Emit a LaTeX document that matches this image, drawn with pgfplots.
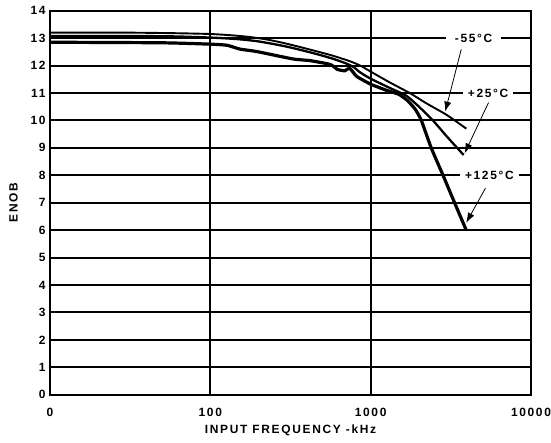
\documentclass[border=0pt]{standalone}
\usepackage{pgfplots}
\pgfplotsset{compat=1.18}
\usepackage{fontspec}
\setmainfont{Liberation Sans}[LetterSpace=14.0]
\usetikzlibrary{arrows.meta}

\begin{document}
\begin{tikzpicture}
\begin{axis}[
  scale only axis,
  width=481bp, height=384bp,
  xmode=log, log basis x=10,
  xmin=10, xmax=10000, ymin=0, ymax=14,
  xtick={10,100,1000,10000}, xticklabels={0,100,1000,10000},
  ytick={0,1,...,14},
  minor xtick={},
  major tick length=0pt,
  grid=major, grid style={black, line width=2.1bp},
  axis line style={black, line width=2.1bp},
  tick label style={font=\fontsize{12}{13}\selectfont\bfseries},
  /pgf/number format/assume math mode=true,
  log ticks with fixed point,
  xticklabel style={yshift=-10bp},
  yticklabel style={xshift=-1bp},
  xlabel={INPUT FREQUENCY -kHz}, ylabel={ENOB},
  label style={font=\fontsize{12}{13}\selectfont\bfseries},
  xlabel style={yshift=-1bp},
  ylabel style={yshift=6bp},
  clip=false,
]
% -55 C
\addplot[black, line width=1.9bp, smooth, tension=0.4] coordinates {
  (10,13.2)(30,13.2)(60,13.18)(100,13.15)(138,13.1)(177,13.04)(225,12.95)
  (283,12.83)(360,12.68)(460,12.52)(580,12.36)(740,12.16)(860,12.0)
  (1000,11.78)(1320,11.38)(1750,11.0)(2230,10.62)(2980,10.2)(3950,9.7)};
% +25 C
\addplot[black, line width=2.3bp, smooth, tension=0.4] coordinates {
  (10,13.08)(50,13.07)(100,13.02)(150,12.96)(200,12.88)(283,12.72)(360,12.58)
  (460,12.42)(580,12.25)(700,12.08)(780,11.95)(860,11.75)(1000,11.52)
  (1320,11.18)(1667,10.9)(2000,10.5)(2445,10.0)(3000,9.4)(3800,8.74)};
% +125 C
\addplot[black, line width=3.2bp, smooth, tension=0.3] coordinates {
  (10,12.85)(50,12.83)(100,12.78)(127,12.74)(153,12.6)(195,12.51)(328,12.24)
  (418,12.18)(560,12.04)(620,11.86)(690,11.81)(740,11.9)(820,11.6)
  (1000,11.32)(1250,11.1)(1500,10.95)(1700,10.72)(1900,10.4)(2070,10.0)
  (2385,9.0)(2827,8.0)(3336,7.0)(3945,6.0)};

\node[fill=white, inner xsep=9bp, inner ysep=2bp, font=\fontsize{12}{13}\selectfont\bfseries]
  at (axis cs:4385,13) {-55°C};
\node[fill=white, inner xsep=5bp, inner ysep=2bp, font=\fontsize{12}{13}\selectfont\bfseries]
  at (axis cs:5400,11) {+25°C};
\node[fill=white, inner xsep=5bp, inner ysep=2bp, font=\fontsize{12}{13}\selectfont\bfseries]
  at (axis cs:5500,8) {+125°C};

\draw[black, line width=0.8bp, -{Latex[length=10bp,width=7bp]}]
  (axis cs:3673,12.59) -- (axis cs:2917,10.32);
\draw[black, line width=0.8bp, -{Latex[length=10bp,width=7bp]}]
  (axis cs:5433,10.65) -- (axis cs:3855,8.80);
\draw[black, line width=0.8bp, -{Latex[length=10bp,width=7bp]}]
  (axis cs:5200,7.53) -- (axis cs:3945,6.27);

\coordinate (SW) at (rel axis cs:0,0);
\coordinate (NE) at (rel axis cs:1,1);
\end{axis}
\pgfresetboundingbox
\path[use as bounding box] ([shift={(-50bp,-47.5bp)}]SW) rectangle ([shift={(20bp,10.7bp)}]NE);
\end{tikzpicture}
\end{document}
